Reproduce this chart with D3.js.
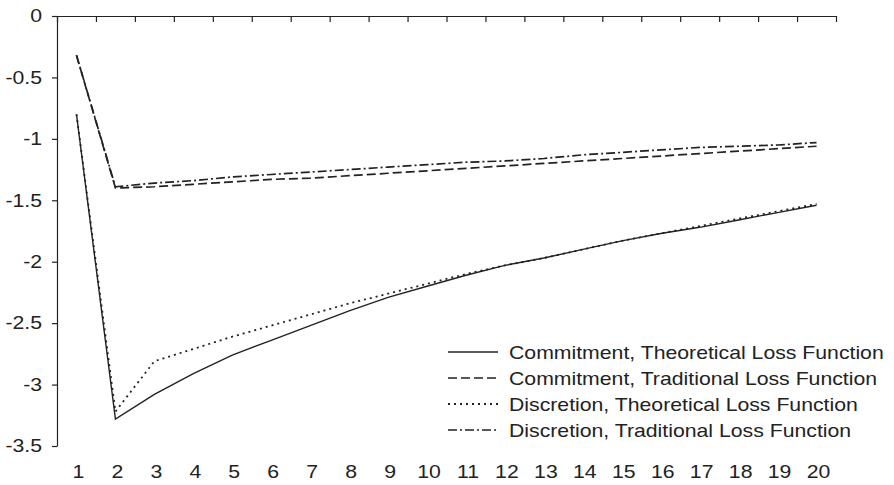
<!DOCTYPE html>
<html>
<head>
<meta charset="utf-8">
<script src="https://cdn.jsdelivr.net/npm/d3@7"></script>
<style>
  body { margin: 0; background: #fff; }
  svg { display: block; }
  text { font-family: "Liberation Sans", Arial, sans-serif; fill: #222; }
</style>
</head>
<body>
<svg id="chart" width="894" height="485"></svg>
<script>
// periods on the x axis
const periods = d3.range(1, 21);

const commitTheo = [-0.80, -3.28, -3.08, -2.91, -2.76, -2.64, -2.52, -2.40, -2.29, -2.20, -2.11, -2.03, -1.97, -1.90, -1.83, -1.77, -1.72, -1.66, -1.60, -1.54];
const commitTrad = [-0.32, -1.40, -1.39, -1.37, -1.35, -1.33, -1.32, -1.30, -1.28, -1.26, -1.24, -1.22, -1.20, -1.18, -1.16, -1.14, -1.12, -1.10, -1.08, -1.06];
const discTheo = [-0.80, -3.22, -2.81, -2.71, -2.61, -2.52, -2.43, -2.34, -2.26, -2.18, -2.10, -2.03, -1.97, -1.90, -1.83, -1.77, -1.71, -1.65, -1.59, -1.53];
const discTrad = [-0.32, -1.39, -1.36, -1.34, -1.31, -1.29, -1.27, -1.25, -1.23, -1.21, -1.19, -1.18, -1.16, -1.13, -1.11, -1.09, -1.07, -1.06, -1.05, -1.03];

const seriesNames = [
  'Commitment, Theoretical Loss Function',
  'Commitment, Traditional Loss Function',
  'Discretion, Theoretical Loss Function',
  'Discretion, Traditional Loss Function'
];
const yTicks = [0, -0.5, -1, -1.5, -2, -2.5, -3, -3.5];

const series = [
  { name: seriesNames[0], values: commitTheo, dash: null, w: 1.4 },
  { name: seriesNames[1], values: commitTrad, dash: '9,4', w: 1.7 },
  { name: seriesNames[2], values: discTheo, dash: '2,4', w: 1.8 },
  { name: seriesNames[3], values: discTrad, dash: '9,3,2,3', w: 1.7 }
];

const plot = { left: 57, right: 836, top: 16, bottom: 446 };
const stretch = 1.18; // text in the original is drawn a bit wide

const svg = d3.select('#chart');

const xBand = d3.scaleBand().domain(periods).range([plot.left, plot.right]);
const xEdge = d3.scaleLinear().domain([0, periods.length]).range([plot.left, plot.right]);
const yScale = d3.scaleLinear().domain([-3.5, 0]).range([plot.bottom, plot.top]);

// axis line along the top (value 0), ticks at band edges pointing down
svg.append('g')
  .attr('transform', `translate(0,${plot.top})`)
  .call(d3.axisBottom(xEdge).ticks(20).tickFormat('').tickSizeInner(6).tickSizeOuter(0))
  .call(g => g.selectAll('path, line').attr('stroke', '#222').attr('stroke-width', 1.2));

// category labels along the bottom
svg.append('g')
  .attr('transform', 'translate(2,462)')
  .call(d3.axisBottom(xBand).tickSize(0).tickPadding(0))
  .call(g => g.select('.domain').remove())
  .call(g => g.selectAll('text')
    .attr('font-size', 18)
    .attr('y', 0)
    .attr('dy', '0.9em')
    .attr('x', 0)
    .attr('transform', `scale(${stretch},1)`)
    .style('font-family', '"Liberation Sans", Arial, sans-serif')
    .style('fill', '#222'));

// y axis
svg.append('g')
  .attr('transform', `translate(${plot.left},0)`)
  .call(d3.axisLeft(yScale).tickValues(yTicks).tickFormat(d => String(d)).tickSizeInner(5).tickSizeOuter(0))
  .call(g => g.selectAll('path, line').attr('stroke', '#222').attr('stroke-width', 1.2))
  .call(g => g.selectAll('text')
    .attr('font-size', 18)
    .attr('x', -15 / stretch)
    .attr('transform', `scale(${stretch},1)`)
    .style('font-family', '"Liberation Sans", Arial, sans-serif')
    .style('fill', '#222'));

const line = d3.line()
  .x((d, i) => xBand(periods[i]) + xBand.bandwidth() / 2)
  .y(d => yScale(d));

svg.append('g')
  .selectAll('path')
  .data(series)
  .join('path')
  .attr('d', d => line(d.values))
  .attr('fill', 'none')
  .attr('stroke', '#222')
  .attr('stroke-width', d => d.w)
  .attr('stroke-dasharray', d => d.dash);

// legend
const legend = svg.append('g').attr('transform', 'translate(448,352)');
const rows = legend.selectAll('g')
  .data(series)
  .join('g')
  .attr('transform', (d, i) => `translate(0,${i * 26})`);

rows.append('line')
  .attr('x1', 0).attr('x2', 50)
  .attr('stroke', '#222')
  .attr('stroke-width', d => d.w)
  .attr('stroke-dasharray', d => d.dash);

rows.append('text')
  .attr('transform', `translate(61,6.5) scale(${stretch},1)`)
  .attr('font-size', 18)
  .text(d => d.name);
</script>
</body>
</html>
